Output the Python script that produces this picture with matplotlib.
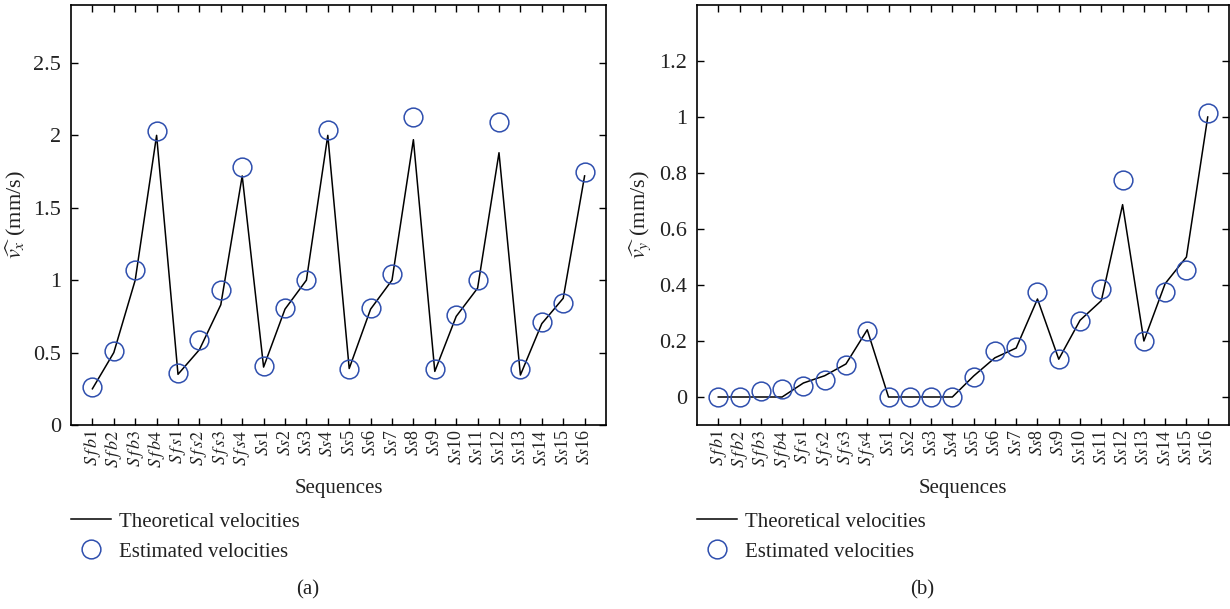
import numpy as np
import matplotlib
matplotlib.use('Agg')
import matplotlib.pyplot as plt
from matplotlib.lines import Line2D

plt.rcParams['font.family'] = ['Liberation Serif', 'DejaVu Serif']
plt.rcParams['mathtext.fontset'] = 'stix'

# sequence names
seq_labels = [r'$S\,f\,b1$', r'$S\,f\,b2$', r'$S\,f\,b3$', r'$S\,f\,b4$',
              r'$S\,f\,s1$', r'$S\,f\,s2$', r'$S\,f\,s3$', r'$S\,f\,s4$'] + \
             [r'$\mathit{Ss}$' + str(i) for i in range(1, 17)]

# (a) velocity along x
vx_theo = [0.25, 0.5, 1.0, 2.0, 0.35, 0.52, 0.83, 1.72,
           0.40, 0.80, 1.0, 2.0, 0.39, 0.80, 1.0, 1.97,
           0.37, 0.75, 0.945, 1.88, 0.345, 0.70, 0.875, 1.72]
vx_est = [0.26, 0.51, 1.07, 2.03, 0.36, 0.585, 0.93, 1.78,
          0.41, 0.81, 1.0, 2.04, 0.385, 0.81, 1.04, 2.13,
          0.385, 0.76, 1.0, 2.09, 0.385, 0.71, 0.84, 1.75]

# (b) velocity along y
vy_theo = [0, 0, 0, 0, 0.05, 0.076, 0.118, 0.24,
           0, 0, 0, 0, 0.075, 0.14, 0.175, 0.35,
           0.135, 0.274, 0.344, 0.687, 0.2, 0.405, 0.5, 1.0]
vy_est = [0.0, 0.0, 0.02, 0.03, 0.04, 0.06, 0.115, 0.237,
          0.0, 0.0, 0.0, 0.0, 0.07, 0.163, 0.18, 0.374,
          0.136, 0.27, 0.386, 0.776, 0.2, 0.374, 0.453, 1.014]

x = np.arange(1, len(seq_labels) + 1)
blue = '#2f4fae'
txt = '#222222'

fig = plt.figure(figsize=(12.3, 6.09), dpi=100)
ax1 = fig.add_axes([71 / 1230, 1 - 425 / 609, 535 / 1230, 420 / 609])
ax2 = fig.add_axes([697 / 1230, 1 - 425 / 609, 532 / 1230, 420 / 609])


def draw(ax, theo, est, ylim, yticks, yticklabels, ylabel):
    ax.plot(x, theo, color='black', lw=1.1)
    ax.plot(x, est, ls='none', marker='o', ms=13.5, mfc='none', mec=blue, mew=1.1)
    ax.set_xlim(0, 25)
    ax.set_ylim(*ylim)
    ax.set_yticks(yticks)
    ax.set_yticklabels(yticklabels, fontsize=16, color=txt)
    ax.set_xticks(x)
    ax.set_xticklabels(seq_labels, rotation=90, fontsize=13, color=txt)
    ax.tick_params(axis='y', pad=7)
    ax.tick_params(direction='in', top=True, right=True, length=5, width=1)
    ax.set_xlabel('Sequences', fontsize=15, color=txt, labelpad=8)
    ax.set_ylabel(ylabel, fontsize=16, color=txt, labelpad=4)
    for s in ax.spines.values():
        s.set_linewidth(1.2)


draw(ax1, vx_theo, vx_est, (0, 2.9), [0, 0.5, 1, 1.5, 2, 2.5],
     ['0', '0.5', '1', '1.5', '2', '2.5'], r'$\widehat{v_x}$ (mm/s)')
draw(ax2, vy_theo, vy_est, (-0.1, 1.4), [0, 0.2, 0.4, 0.6, 0.8, 1.0, 1.2],
     ['0', '0.2', '0.4', '0.6', '0.8', '1', '1.2'], r'$\widehat{v_y}$ (mm/s)')

handles = [Line2D([], [], color='black', lw=1.1),
           Line2D([], [], ls='none', marker='o', ms=13.5, mfc='none', mec=blue, mew=1.1)]
names = ['Theoretical velocities', 'Estimated velocities']
for lx, cx, cap in [(71, 308, '(a)'), (697, 922, '(b)')]:
    fig.legend(handles, names, loc='upper left', bbox_to_anchor=(lx / 1230, 1 - 512 / 609),
               frameon=False, fontsize=15, handlelength=1.9, handletextpad=0.4,
               borderaxespad=0, borderpad=0, labelspacing=0.5, labelcolor=txt)
    fig.text(cx / 1230, 1 - 590 / 609, cap, ha='center', va='center', fontsize=15, color=txt)

fig.savefig('out.png', dpi=100)
